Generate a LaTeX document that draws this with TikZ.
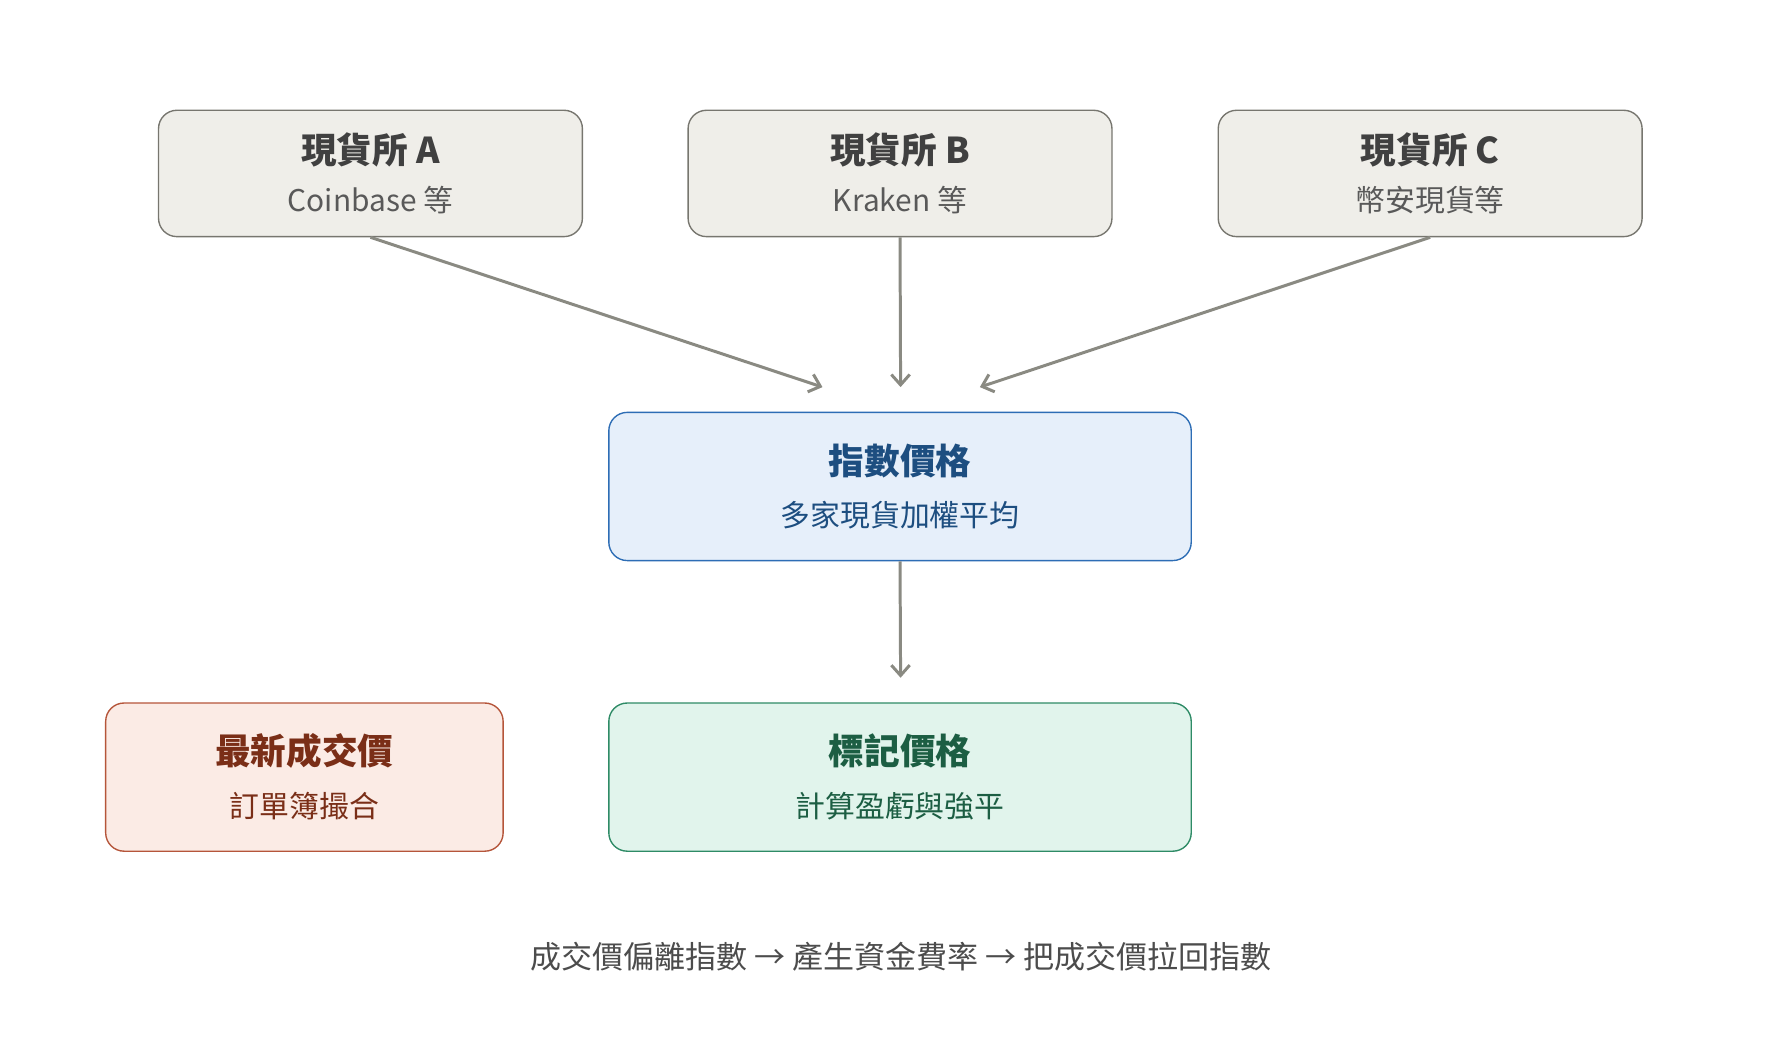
\documentclass[tikz,border=0pt]{standalone}
\usepackage{fontspec}
\setmainfont{Noto Sans CJK TC}
\usepackage{xcolor}
\usetikzlibrary{arrows.meta}
\definecolor{greyfill}{HTML}{EFEEE9}
\definecolor{greyline}{HTML}{77766F}
\definecolor{bluefill}{HTML}{E6EFFA}
\definecolor{blueline}{HTML}{2D6DB5}
\definecolor{bluetext}{HTML}{1D4E80}
\definecolor{greenfill}{HTML}{E1F4EC}
\definecolor{greenline}{HTML}{2E8B66}
\definecolor{greentext}{HTML}{1C5E43}
\definecolor{redfill}{HTML}{FBEBE5}
\definecolor{redline}{HTML}{B5553A}
\definecolor{redtext}{HTML}{7A2E17}
\definecolor{arrowgrey}{HTML}{8A8A82}
\begin{document}
\begin{tikzpicture}[x=1pt,y=1pt,
                    box/.style={draw,rounded corners=16pt,line width=1.2pt,align=center,
                                font=\fontsize{26}{42}\selectfont},
                    exch/.style={box,fill=greyfill,draw=greyline,text=black!75,
                                 minimum width=369pt,minimum height=110pt},
                    big/.style={box,minimum width=507pt,minimum height=129pt},
                    flow/.style={draw=arrowgrey,line width=2.6pt,-{Straight Barb[length=9pt,width=16pt]}}]
  \useasboundingbox (0,0) rectangle (1560,918);
  % spot exchanges
  \node[exch] (exA) at (322.5,767) {\fontsize{31}{42}\selectfont\bfseries 現貨所 A\\\color{black!65}Coinbase 等};
  \node[exch] (exB) at (783.5,767) {\fontsize{31}{42}\selectfont\bfseries 現貨所 B\\\color{black!65}Kraken 等};
  \node[exch] (exC) at (1245,767) {\fontsize{31}{42}\selectfont\bfseries 現貨所 C\\\color{black!65}幣安現貨等};
  % prices
  \node[big,fill=bluefill,draw=blueline,text=bluetext,font=\fontsize{26}{46}\selectfont] (index) at (783.5,494.5)
    {\fontsize{31}{46}\selectfont\bfseries 指數價格\\多家現貨加權平均};
  \node[big,fill=greenfill,draw=greenline,text=greentext,font=\fontsize{26}{46}\selectfont] (mark) at (783.5,241.5)
    {\fontsize{31}{46}\selectfont\bfseries 標記價格\\計算盈虧與強平};
  \node[box,fill=redfill,draw=redline,text=redtext,minimum width=346pt,minimum height=129pt,
        font=\fontsize{26}{46}\selectfont] (last) at (265,241.5)
    {\fontsize{31}{46}\selectfont\bfseries 最新成交價\\訂單簿撮合};
  \node[text=black!70,font=\fontsize{27}{32}\selectfont] (note) at (784,85)
    {成交價偏離指數 → 產生資金費率 → 把成交價拉回指數};
  % arrow tips
  \coordinate (inA) at (716,581);
  \coordinate (inB) at (784,581);
  \coordinate (inC) at (853,581);
  \coordinate (inM) at (784,328);
  \draw[flow] (exA.south) -- (inA);
  \draw[flow] (exB.south) -- (inB);
  \draw[flow] (exC.south) -- (inC);
  \draw[flow] (index.south) -- (inM);
\end{tikzpicture}
\end{document}
